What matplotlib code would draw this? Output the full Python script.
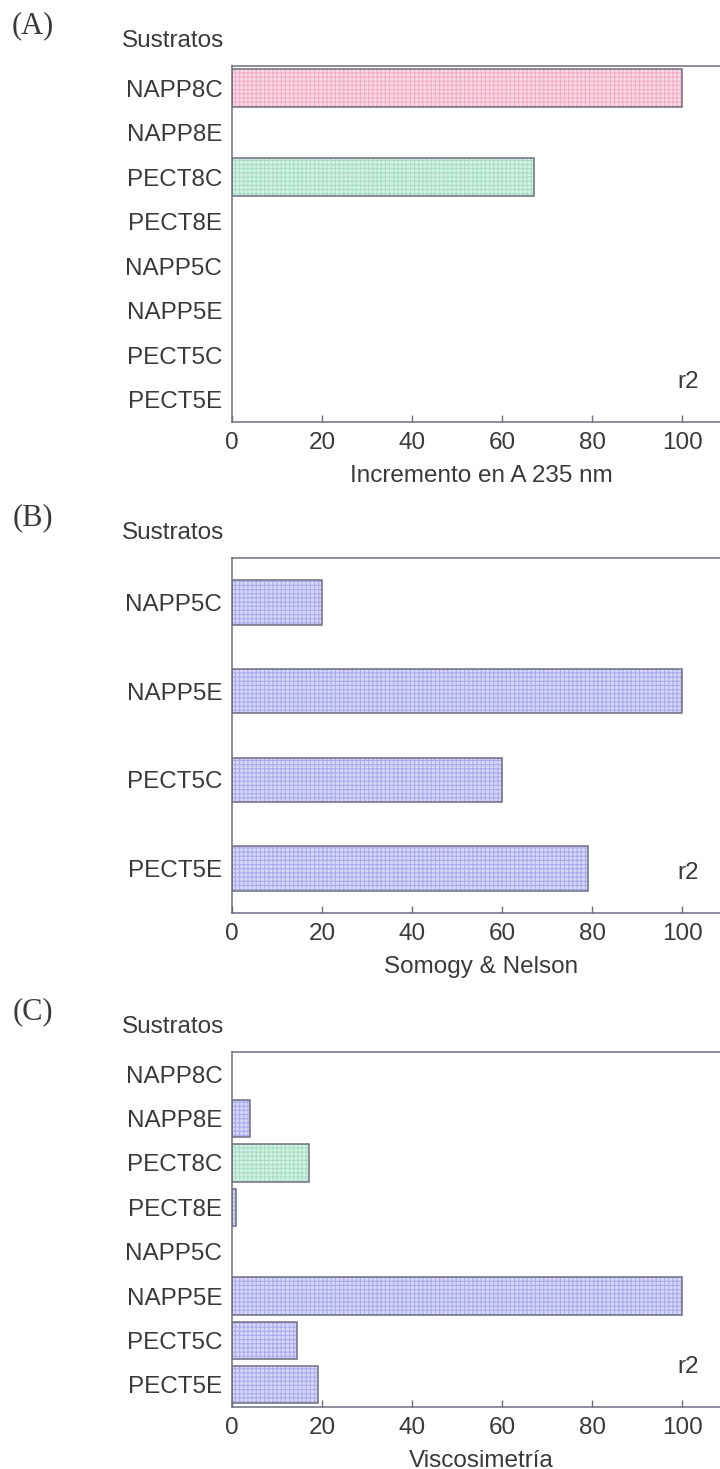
import matplotlib.pyplot as plt

# datos de los tres paneles
sust_8 = ['NAPP8C', 'NAPP8E', 'PECT8C', 'PECT8E', 'NAPP5C', 'NAPP5E', 'PECT5C', 'PECT5E']
sust_5 = ['NAPP5C', 'NAPP5E', 'PECT5C', 'PECT5E']

vals_a = [100, 0, 67, 0, 0, 0, 0, 0]
vals_b = [20, 100, 60, 79]
vals_c = [0, 4, 17, 0.8, 0, 100, 14.5, 19]

xlabels = ['Incremento en A 235 nm', 'Somogy & Nelson', 'Viscosimetría']
panel_tags = ['(A)', '(B)', '(C)']

col_fill = {'NAPP8C': '#f9dbe6', 'PECT8C': '#d5f1e4'}
col_hatch = {'NAPP8C': '#f2aec8', 'PECT8C': '#a6dfc6'}
blue_fill, blue_hatch = '#d8d8f8', '#ababee'

txt = '#3a3a3a'
edge = '#6e6e80'
plt.rcParams['font.family'] = ['Liberation Sans', 'DejaVu Sans']
plt.rcParams['hatch.linewidth'] = 0.8

W, H = 720, 1469
fig = plt.figure(figsize=(W / 100, H / 100), dpi=100)

# (top, bottom) en pixeles de cada panel
boxes = [(66, 422), (558, 913), (1052, 1407)]
x0, x1 = 232, 730
px_per_unit = 4.5

panels = [(sust_8, vals_a, 0.85), (sust_5, vals_b, 0.5), (sust_8, vals_c, 0.84)]

for i, ((cats, vals, bh), (top, bot)) in enumerate(zip(panels, boxes)):
    ax = fig.add_axes([x0 / W, 1 - bot / H, (x1 - x0) / W, (bot - top) / H])
    y = list(range(len(cats)))
    fills = [col_fill.get(c, blue_fill) for c in cats]
    hatches = [col_hatch.get(c, blue_hatch) for c in cats]
    # relleno con textura punteada
    for yy, v, fc, hc in zip(y, vals, fills, hatches):
        if v > 0:
            ax.barh(yy, v, height=bh, color=fc, edgecolor=hc, hatch='++++', linewidth=0)
    # contorno
    for yy, v in zip(y, vals):
        if v > 0:
            ax.barh(yy, v, height=bh, fill=False, edgecolor=edge, linewidth=1.1)
    ax.set_ylim(len(cats) - 0.5, -0.5)
    ax.set_xlim(0, (x1 - x0) / px_per_unit)
    ax.set_yticks(y)
    ax.set_yticklabels(cats)
    ax.set_xticks([0, 20, 40, 60, 80, 100])
    ax.tick_params(axis='y', length=0, pad=7, labelsize=17.5, labelcolor=txt)
    ax.tick_params(axis='x', direction='in', length=5, width=1, color=edge,
                   pad=7, labelsize=17.5, labelcolor=txt)
    for s in ['top', 'left', 'bottom']:
        ax.spines[s].set_color(edge)
        ax.spines[s].set_linewidth(1.1)
    ax.spines['right'].set_visible(False)
    ax.set_xlabel(xlabels[i], fontsize=17.5, color=txt, labelpad=8)
    # r2 cerca de la esquina inferior derecha
    ax.text((688 - x0) / (x1 - x0), 40 / (bot - top), 'r2', transform=ax.transAxes,
            ha='center', va='center', fontsize=17.5, color=txt)

    fig.text(173 / W, 1 - (top - 25) / H, 'Sustratos', ha='center', va='center',
             fontsize=17.5, color=txt)
    fig.text(33 / W, 1 - (top - 40) / H, panel_tags[i], ha='center', va='center',
             fontsize=22, color=txt, family=['Liberation Serif', 'DejaVu Serif'])

fig.savefig('out.png', dpi=100)
